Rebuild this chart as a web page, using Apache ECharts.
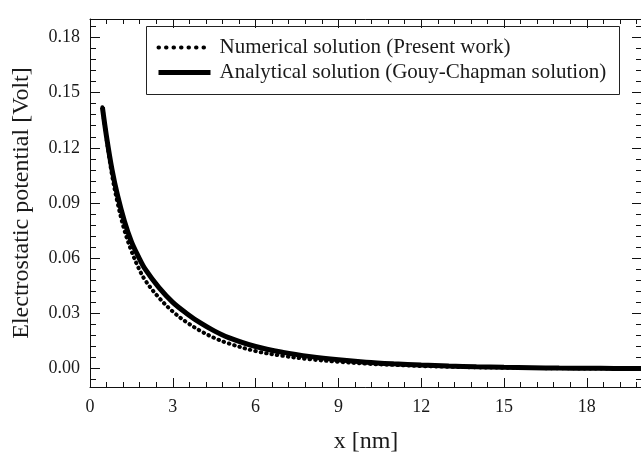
<!DOCTYPE html>
<html>
<head>
<meta charset="utf-8">
<script src="https://cdn.jsdelivr.net/npm/echarts@6/dist/echarts.min.js"></script>
<style>html,body{margin:0;padding:0;background:#fff;}#c{width:641px;height:452px;}</style>
</head>
<body>
<div id="c"></div>
<script>
// x positions (nm)
const xVals = [0.45, 0.6, 0.8, 1.0, 1.25, 1.5, 1.75, 2.0, 2.5, 3.0, 3.5, 4.0, 4.5, 5.0, 6.0, 7.0, 8.0, 9.0, 10, 11, 12, 13, 14, 15, 16, 17, 18, 19, 20];
// Analytical (Gouy-Chapman) potential [V]
const analyticalY = [0.142, 0.126, 0.108, 0.094, 0.080, 0.069, 0.061, 0.054, 0.044, 0.036, 0.030, 0.0248, 0.0205, 0.0170, 0.0120, 0.0088, 0.0065, 0.0048, 0.0035, 0.0026, 0.0019, 0.0014, 0.0010, 0.0007, 0.0005, 0.0003, 0.0002, 0.0001, 0.0001];
// Numerical (present work) potential [V]
const numericalY = [0.142, 0.125, 0.105, 0.090, 0.075, 0.064, 0.055, 0.048, 0.0385, 0.031, 0.0252, 0.0205, 0.0167, 0.0138, 0.0095, 0.0069, 0.0050, 0.0037, 0.0027, 0.0020, 0.0014, 0.0010, 0.0007, 0.0005, 0.0003, 0.0002, 0.0001, 0.0001, 0.0];
// tick labels
const xTicks = [0, 3, 6, 9, 12, 15, 18];
const yTicks = [0.00, 0.03, 0.06, 0.09, 0.12, 0.15, 0.18];
const seriesNames = ['Numerical solution (Present work)', 'Analytical solution (Gouy-Chapman solution)'];

const xMinor = [];
for (let i = 1; i <= 33; i++) { if (i % 5 !== 0) xMinor.push(+(i * 0.6).toFixed(2)); }
const yMinor = [];
for (let i = -1; i <= 31; i++) { if (i % 5 !== 0) yMinor.push(+(i * 0.006).toFixed(3)); }

const FONT = '"Liberation Serif", "DejaVu Serif", serif';
const TXT = '#1a1a1a';
const X_MIN = 0, X_MAX = 20, Y_MIN = -0.01, Y_MAX = 0.19;

function xAx(pos, ticks, len, showLine, showLabel, extra) {
  return Object.assign({
    type: 'value', min: X_MIN, max: X_MAX, position: pos,
    axisLine: { show: showLine, onZero: false, lineStyle: { color: '#111', width: 1 } },
    axisTick: { show: true, inside: true, length: len, customValues: ticks, lineStyle: { color: '#111', width: 1 } },
    axisLabel: showLabel ? { show: true, customValues: ticks, fontFamily: FONT, fontSize: 18, color: TXT, margin: 11 } : { show: false },
    splitLine: { show: false }
  }, extra || {});
}
function yAx(pos, ticks, len, showLine, showLabel, extra) {
  return Object.assign({
    type: 'value', min: Y_MIN, max: Y_MAX, position: pos,
    axisLine: { show: showLine, onZero: false, lineStyle: { color: '#111', width: 1 } },
    axisTick: { show: true, inside: true, length: len, customValues: ticks, lineStyle: { color: '#111', width: 1 } },
    axisLabel: showLabel ? { show: true, customValues: ticks, fontFamily: FONT, fontSize: 18, color: TXT, margin: 10,
      formatter: v => v.toFixed(2) } : { show: false },
    splitLine: { show: false }
  }, extra || {});
}

const chart = echarts.init(document.getElementById('c'), null, { renderer: 'canvas' });
chart.setOption({
  backgroundColor: '#fff',
  animation: false,
  grid: { left: 90, top: 19, width: 552, height: 368, containLabel: false, outerBoundsMode: 'none' },
  xAxis: [
    xAx('bottom', xTicks, 9, true, true, { name: 'x [nm]', nameLocation: 'middle', nameGap: 43,
      nameTextStyle: { fontFamily: FONT, fontSize: 24, color: TXT } }),
    xAx('bottom', xMinor, 5, false, false),
    xAx('top', xTicks, 9, true, false),
    xAx('top', xMinor, 5, false, false)
  ],
  yAxis: [
    yAx('left', yTicks, 10, true, true, { name: 'Electrostatic potential [Volt]', nameLocation: 'middle', nameGap: 56,
      nameTextStyle: { fontFamily: FONT, fontSize: 24, color: TXT } }),
    yAx('left', yMinor, 6, false, false),
    yAx('right', yTicks, 10, true, false),
    yAx('right', yMinor, 6, false, false)
  ],
  legend: {
    left: 156, top: 37, orient: 'vertical', itemWidth: 52, itemHeight: 12, itemGap: 4,
    padding: 0,
    itemStyle: { opacity: 0 },
    textStyle: { fontFamily: FONT, fontSize: 21, color: TXT, padding: [0, 0, 0, 4] },
    data: [
      { name: seriesNames[0], lineStyle: { color: '#000', width: 4, type: [0.5, 7], cap: 'round' } },
      { name: seriesNames[1], lineStyle: { color: '#000', width: 5, type: 'solid' } }
    ]
  },
  graphic: [{
    type: 'rect', shape: { x: 146.5, y: 26.5, width: 473, height: 68 },
    style: { fill: 'none', stroke: '#222', lineWidth: 1 }, z: 100, silent: true
  }],
  series: [
    {
      name: seriesNames[1], type: 'line', xAxisIndex: 0, yAxisIndex: 0,
      data: xVals.map((x, i) => [x, analyticalY[i]]),
      smooth: 0.35, showSymbol: false, symbol: 'none',
      lineStyle: { color: '#000', width: 5, type: 'solid' }, itemStyle: { color: '#000' }, z: 2
    },
    {
      name: seriesNames[0], type: 'line', xAxisIndex: 0, yAxisIndex: 0,
      data: xVals.map((x, i) => [x, numericalY[i]]),
      smooth: 0.35, showSymbol: false, symbol: 'none',
      lineStyle: { color: '#000', width: 4, type: [0.5, 5], cap: 'round' }, itemStyle: { color: '#000' }, z: 3
    }
  ]
});
</script>
</body>
</html>
